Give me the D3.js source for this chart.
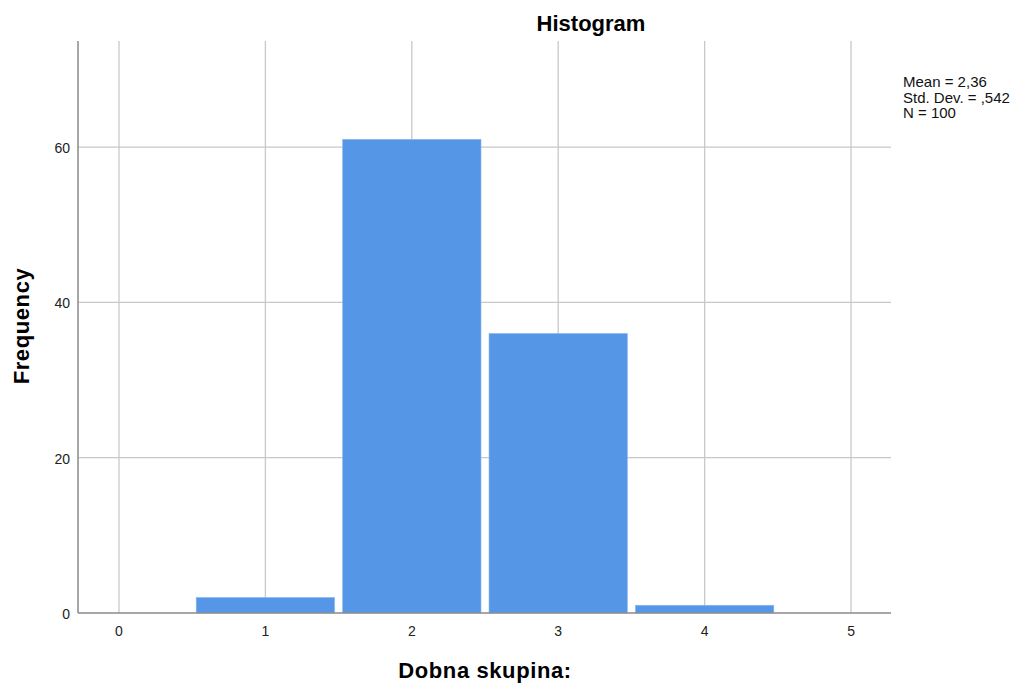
<!DOCTYPE html>
<html>
<head>
<meta charset="utf-8">
<script src="https://cdn.jsdelivr.net/npm/d3@7"></script>
<style>
  html, body { margin: 0; padding: 0; background: #fff; }
  svg { display: block; font-family: "Liberation Sans", Arial, sans-serif; }
</style>
</head>
<body>
<svg id="chart" width="1015" height="684"></svg>
<script>
const binCenters = [1, 2, 3, 4];
const frequencies = [2, 61, 36, 1];
const xTicks = [0, 1, 2, 3, 4, 5];
const yTicks = [0, 20, 40, 60];
const statsLines = ["Mean = 2,36", "Std. Dev. = ,542", "N = 100"];
const title = "Histogram";
const xLabel = "Dobna skupina:";
const yLabel = "Frequency";

(function () {
const svg = d3.select("#chart");
const pL = 78, pR = 891, pT = 41, pB = 613;

const x = d3.scaleLinear().domain([-0.28, 5.273]).range([pL, pR]);
const y = d3.scaleLinear().domain([0, 73.66]).range([pB, pT]);

// grid
svg.append("g").selectAll("line").data(xTicks).join("line")
  .attr("x1", d => x(d)).attr("x2", d => x(d))
  .attr("y1", pT).attr("y2", pB)
  .attr("stroke", "#c8c8c8").attr("stroke-width", 1.3);
svg.append("g").selectAll("line").data(yTicks.filter(d => d > 0)).join("line")
  .attr("x1", pL).attr("x2", pR)
  .attr("y1", d => y(d)).attr("y2", d => y(d))
  .attr("stroke", "#c8c8c8").attr("stroke-width", 1.3);

// bars
const inset = 4;
svg.append("g").selectAll("rect").data(binCenters).join("rect")
  .attr("x", d => x(d - 0.5) + inset)
  .attr("width", d => x(d + 0.5) - x(d - 0.5) - 2 * inset)
  .attr("y", (d, i) => y(frequencies[i]))
  .attr("height", (d, i) => y(0) - y(frequencies[i]))
  .attr("fill", "#5596e6")
  .attr("stroke", "#8fbaf0").attr("stroke-width", 0.6);

// axes lines
svg.append("line").attr("x1", pL).attr("x2", pL).attr("y1", pT).attr("y2", pB)
  .attr("stroke", "#8a8a8a").attr("stroke-width", 1.5);
svg.append("line").attr("x1", pL).attr("x2", pR).attr("y1", pB).attr("y2", pB)
  .attr("stroke", "#8a8a8a").attr("stroke-width", 1.5);

// tick labels
svg.append("g").selectAll("text").data(xTicks).join("text")
  .attr("x", d => x(d)).attr("y", 636)
  .attr("text-anchor", "middle").attr("font-size", 14).attr("fill", "#222")
  .text(d => d);
svg.append("g").selectAll("text").data(yTicks).join("text")
  .attr("x", 70).attr("y", d => y(d) + 6)
  .attr("text-anchor", "end").attr("font-size", 14).attr("fill", "#222")
  .text(d => d);

// title and labels
svg.append("text").attr("x", 591).attr("y", 31)
  .attr("text-anchor", "middle").attr("font-size", 22).attr("font-weight", "bold")
  .text(title);
svg.append("text").attr("x", 485).attr("y", 678)
  .attr("text-anchor", "middle").attr("font-size", 22).attr("font-weight", "bold")
  .attr("letter-spacing", 0.6)
  .text(xLabel);
svg.append("text").attr("transform", "translate(29,326) rotate(-90)")
  .attr("text-anchor", "middle").attr("font-size", 22).attr("font-weight", "bold")
  .attr("letter-spacing", 0.6)
  .text(yLabel);

// stats
svg.append("g").selectAll("text").data(statsLines).join("text")
  .attr("x", 903).attr("y", (d, i) => 87 + i * 15.5)
  .attr("font-size", 15).attr("fill", "#111")
  .text(d => d);
})();
</script>
</body>
</html>
